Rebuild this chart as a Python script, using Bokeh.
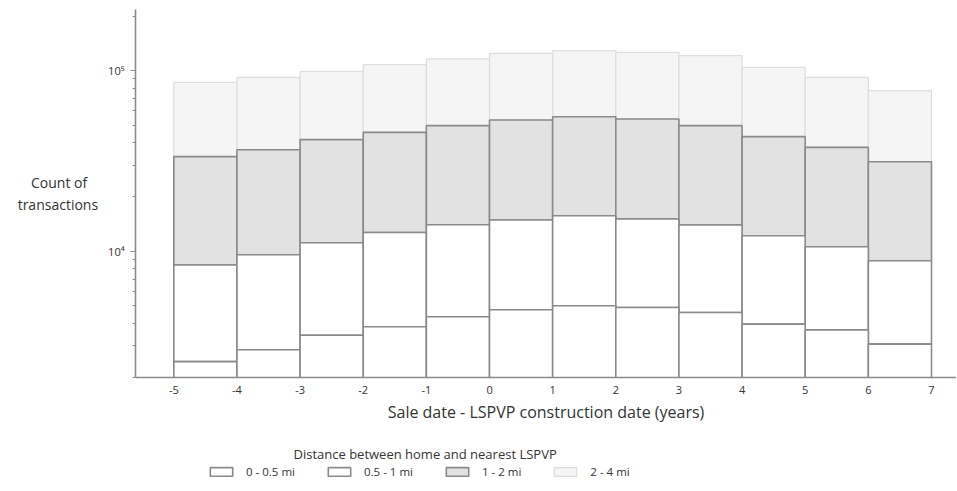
import numpy as np
from bokeh.plotting import figure
from bokeh.layouts import column
from bokeh.models import (ColumnDataSource, FixedTicker, CustomJSTickFormatter,
                          Legend, LegendItem, Label)
from bokeh.embed import file_html
from bokeh.resources import INLINE

# ---- data ----
bin_start = [-5, -4, -3, -2, -1, 0, 1, 2, 3, 4, 5, 6]
x_ticks = [-5, -4, -3, -2, -1, 0, 1, 2, 3, 4, 5, 6, 7]
series_names = ["0 - 0.5 mi", "0.5 - 1 mi", "1 - 2 mi", "2 - 4 mi"]
d_0_05 = [2450, 2850, 3430, 3820, 4340, 4740, 4990, 4880, 4580, 3950, 3670, 3060]
d_05_1 = [5940, 6710, 7720, 8890, 9690, 10150, 10740, 10200, 9390, 8240, 6920, 5800]
d_1_2 = [25010, 26940, 30350, 32790, 35570, 38410, 39870, 38920, 35630, 30910, 27010, 22440]
d_2_4 = [52700, 55300, 57600, 62400, 66500, 71400, 73500, 72300, 71500, 61200, 54200, 46200]

series = [d_0_05, d_05_1, d_1_2, d_2_4]
fills = ["#ffffff", "#ffffff", "#e2e2e2", "#f5f5f5"]
lines = ["#8a8a8a", "#8a8a8a", "#8a8a8a", "#dddddd"]
widths = [1.6, 1.6, 1.6, 1.2]

FONT = "Open Sans"
TXT = "#333333"
FW = 821

p = figure(frame_width=FW, frame_height=368,
           x_range=(-5.607, 7.396), y_range=(2000, 218000),
           y_axis_type="log", output_backend="svg", toolbar_location=None,
           min_border_left=135, min_border_right=0, min_border_top=9,
           min_border_bottom=62)
p.outline_line_color = None
p.xgrid.visible = False
p.ygrid.visible = False
p.background_fill_color = "white"
p.border_fill_color = "white"

left = np.array(bin_start, dtype=float)
right = left + 1.0
cum = np.zeros(len(bin_start))
sources = []
for vals in series:
    bottom = cum.copy()
    bottom[bottom == 0] = 1.0
    top = cum + np.array(vals, dtype=float)
    sources.append(ColumnDataSource(dict(left=left, right=right, bottom=bottom, top=top)))
    cum = top

for i in [3, 2, 1, 0]:
    p.quad(left="left", right="right", bottom="bottom", top="top",
           source=sources[i], fill_color=fills[i],
           line_color=lines[i], line_width=widths[i])

# y axis
ya = p.yaxis[0]
ya.ticker = FixedTicker(ticks=[1e4, 1e5],
                        minor_ticks=[2e3, 3e3, 4e3, 5e3, 6e3, 7e3, 8e3, 9e3,
                                     2e4, 3e4, 4e4, 5e4, 6e4, 7e4, 8e4, 9e4, 2e5])
ya.formatter = CustomJSTickFormatter(code="return tick > 50000 ? '10\u2075' : '10\u2074';")
ya.axis_line_color = "#8a8a8a"
ya.axis_line_width = 1.6
ya.major_tick_line_color = "#8a8a8a"
ya.minor_tick_line_color = "#8a8a8a"
ya.major_tick_out = 5
ya.major_tick_in = 0
ya.minor_tick_out = 3
ya.minor_tick_in = 0
ya.major_label_standoff = 6
ya.major_label_text_font = FONT
ya.major_label_text_font_size = "11px"
ya.major_label_text_color = TXT
ya.axis_label = "Count of\u00a0\u00a0\u00a0\ntransactions"
ya.axis_label_orientation = "horizontal"
ya.axis_label_text_font = FONT
ya.axis_label_text_font_size = "14px"
ya.axis_label_text_font_style = "normal"
ya.axis_label_text_color = TXT
ya.axis_label_standoff = 7

# x axis
xa = p.xaxis[0]
xa.ticker = FixedTicker(ticks=x_ticks)
xa.formatter = CustomJSTickFormatter(code="return String(tick);")
xa.axis_line_color = "#8a8a8a"
xa.axis_line_width = 1.6
xa.major_tick_out = 0
xa.major_tick_in = 0
xa.minor_tick_out = 0
xa.minor_tick_in = 0
xa.major_label_standoff = 8
xa.major_label_text_font = FONT
xa.major_label_text_font_size = "11px"
xa.major_label_text_color = TXT
xa.axis_label = "Sale date - LSPVP construction date (years)"
xa.axis_label_text_font = FONT
xa.axis_label_text_font_size = "16px"
xa.axis_label_text_font_style = "normal"
xa.axis_label_text_color = TXT
xa.axis_label_standoff = 4

# ---- legend strip (separate figure, no axes; frame aligned with main frame) ----
H2 = 44
p2 = figure(frame_width=FW, height=H2, x_range=(0, 1), y_range=(0, 1),
            output_backend="svg", toolbar_location=None,
            min_border_left=135, min_border_right=0,
            min_border_top=0, min_border_bottom=0)
p2.axis.visible = False
p2.xgrid.visible = False
p2.ygrid.visible = False
p2.outline_line_color = None
p2.background_fill_color = "white"
p2.border_fill_color = "white"

items = []
for i in range(4):
    # placed outside the visible range: only the legend swatch is seen
    r = p2.quad(left=[-3], right=[-2], bottom=[-3], top=[-2], fill_color=fills[i],
                line_color=lines[i], line_width=widths[i])
    items.append(LegendItem(label=series_names[i], renderers=[r]))

leg = Legend(items=items, orientation="horizontal", location=(72, 4),
             glyph_width=28, glyph_height=11, label_standoff=11, spacing=30,
             padding=0, margin=0, border_line_color=None, background_fill_alpha=0,
             label_text_font=FONT, label_text_font_size="11.5px", label_text_color=TXT)
p2.add_layout(leg, "center")

p2.add_layout(Label(x=158, y=30, x_units="screen", y_units="screen",
                    text="Distance between home and nearest LSPVP",
                    text_font=FONT, text_font_size="13px", text_color=TXT,
                    text_baseline="middle", text_align="left"))

open("out.html", "w").write(file_html(column(p, p2, spacing=0), INLINE))
